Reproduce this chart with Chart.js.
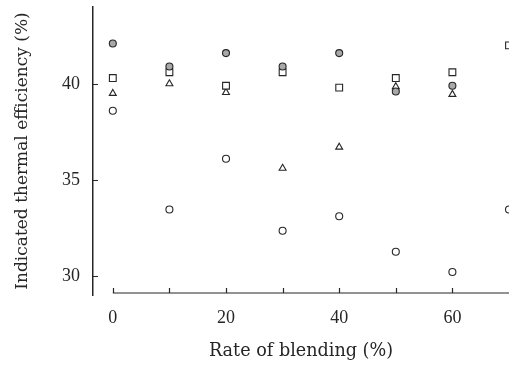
<!DOCTYPE html>
<html>
<head>
<meta charset="utf-8">
<script src="https://cdn.jsdelivr.net/npm/chart.js@4.4.1/dist/chart.umd.min.js"></script>
<style>
  html, body { margin: 0; padding: 0; background: #fff; }
  #wrap { width: 509px; height: 365px; }
</style>
</head>
<body>
<div id="wrap"><canvas id="effChart"></canvas></div>
<script>
const blendRates = [0, 10, 20, 30, 40, 50, 60, 70];
const effGrayCircle = [42.1, 40.9, 41.6, 40.9, 41.6, 39.6, 39.9, null];
const effSquare = [40.3, 40.6, 39.9, 40.6, 39.8, 40.3, 40.6, 42.0];
const effTriangle = [39.5, 40.0, 39.55, 35.6, 36.7, 39.85, 39.45, null];
const effOpenCircle = [38.6, 33.45, 36.1, 32.35, 33.1, 31.25, 30.2, 33.45];
const yTickValues = [30, 35, 40];
const xLabelValues = [0, 20, 40, 60];

const ink = "#262626";
const serif = "'Liberation Serif', serif";
const wideSerif = "'DejaVu Serif', serif";

function toPoints(values) {
  return blendRates.map((x, i) => ({ x, y: values[i] })).filter(p => p.y !== null);
}

function markerSet(label, values, style, radius, fill) {
  return {
    label,
    data: toPoints(values),
    pointStyle: style,
    pointRadius: radius,
    pointHoverRadius: radius,
    pointBorderWidth: 1.1,
    pointBorderColor: ink,
    pointBackgroundColor: fill,
    showLine: false,
    clip: false
  };
}

function noPadding(s) {
  s.paddingLeft = 0;
  s.paddingRight = 0;
  s.paddingTop = 0;
  s.paddingBottom = 0;
}

// detached x axis line + inward tick marks
const axisMarks = {
  id: "axisMarks",
  afterDraw(chart) {
    const { ctx, chartArea, scales: { x, y } } = chart;
    ctx.save();
    ctx.strokeStyle = ink;
    ctx.lineWidth = 1.2;
    const base = chartArea.bottom - 2;
    ctx.beginPath();
    ctx.moveTo(x.getPixelForValue(0), base);
    ctx.lineTo(chartArea.right, base);
    for (let v = 0; v <= 60; v += 10) {
      const px = Math.round(x.getPixelForValue(v)) + 0.5;
      ctx.moveTo(px, base);
      ctx.lineTo(px, base - 5);
    }
    yTickValues.forEach(v => {
      const py = Math.round(y.getPixelForValue(v)) + 0.5;
      ctx.moveTo(chartArea.left, py);
      ctx.lineTo(chartArea.left + 5, py);
    });
    ctx.stroke();
    ctx.restore();
  }
};

new Chart(document.getElementById("effChart").getContext("2d"), {
  type: "scatter",
  data: {
    datasets: [
      markerSet("A", effGrayCircle, "circle", 3.5, "#a8a8a8"),
      markerSet("B", effSquare, "rect", 4.8, "#fff"),
      markerSet("C", effTriangle, "triangle", 4, "#fff"),
      markerSet("D", effOpenCircle, "circle", 3.5, "#fff")
    ]
  },
  plugins: [axisMarks],
  options: {
    responsive: true,
    maintainAspectRatio: false,
    animation: false,
    layout: { autoPadding: false, padding: { top: 7, right: 0, bottom: 0, left: 0 } },
    plugins: {
      legend: { display: false },
      tooltip: { enabled: false }
    },
    scales: {
      x: {
        type: "linear",
        min: -3.5,
        max: 70,
        afterBuildTicks: s => { s.ticks = xLabelValues.map(v => ({ value: v })); },
        afterFit: s => { s.height = 70; noPadding(s); },
        grid: { display: false, drawTicks: false },
        border: { display: false },
        ticks: {
          autoSkip: false,
          padding: 12,
          color: ink,
          maxRotation: 0,
          font: { family: serif, size: 18 }
        },
        title: {
          display: true,
          text: "Rate of blending (%)",
          color: ink,
          font: { family: wideSerif, size: 17.6 },
          padding: { top: 0, bottom: 3 }
        }
      },
      y: {
        type: "linear",
        min: 29,
        max: 44,
        afterBuildTicks: s => { s.ticks = yTickValues.map(v => ({ value: v })); },
        afterFit: s => { s.width = 93; noPadding(s); },
        grid: { display: false, drawTicks: false },
        border: { display: true, color: ink, width: 1.5 },
        ticks: {
          autoSkip: false,
          padding: 13,
          color: ink,
          font: { family: serif, size: 18 }
        },
        title: {
          display: true,
          text: "Indicated thermal efficiency (%)",
          color: ink,
          font: { family: wideSerif, size: 17 },
          padding: { top: 12, bottom: 0 }
        }
      }
    }
  }
});
</script>
</body>
</html>
